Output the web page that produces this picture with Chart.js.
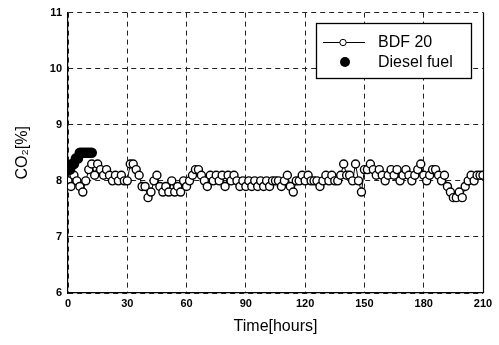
<!DOCTYPE html>
<html>
<head>
<meta charset="utf-8">
<script src="https://cdn.jsdelivr.net/npm/chart.js@4"></script>
<style>
  html, body { margin: 0; padding: 0; background: #fff; }
  #wrap { width: 499px; height: 345px; }
</style>
</head>
<body>
<div id="wrap"><canvas id="c" width="499" height="345"></canvas></div>
<script>
// ---- data ----
const bdfTime = [0,1.5,3,4.5,6,7.5,9,10.5,12,13.5,15,
16.5,18,19.5,21,22.5,24,25.5,27,28.5,30,
31.5,33,34.5,36,37.5,39,40.5,42,43.5,45,
46.5,48,49.5,51,52.5,54,55.5,57,58.5,60,
61.5,63,64.5,66,67.5,69,70.5,72,73.5,75,
76.5,78,79.5,81,82.5,84,85.5,87,88.5,90,
91.5,93,94.5,96,97.5,99,100.5,102,103.5,105,
106.5,108,109.5,111,112.5,114,115.5,117,118.5,120,
121.5,123,124.5,126,127.5,129,130.5,132,133.5,135,
136.5,138,139.5,141,142.5,144,145.5,147,148.5,150,
151.5,153,154.5,156,157.5,159,160.5,162,163.5,165,
166.5,168,169.5,171,172.5,174,175.5,177,178.5,180,
181.5,183,184.5,186,187.5,189,190.5,192,193.5,195,
196.5,198,199.5,201,202.5,204,205.5,207,208.5,210];
const bdfCO2 = [8.0,7.9,8.1,8.0,7.9,7.8,8.0,8.2,8.3,8.1,8.3,
8.2,8.1,8.2,8.1,8.0,8.1,8.0,8.1,8.0,8.0,
8.3,8.3,8.2,8.1,7.9,7.9,7.7,7.8,8.0,8.1,
7.9,7.8,7.9,7.8,8.0,7.8,7.9,7.8,8.0,7.9,
8.0,8.1,8.2,8.2,8.1,8.0,7.9,8.1,8.0,8.1,
8.0,8.1,7.9,8.1,8.0,8.1,8.0,7.9,8.0,7.9,
8.0,7.9,8.0,7.9,8.0,7.9,8.0,7.9,8.0,8.0,
8.0,7.9,8.0,8.1,7.9,7.8,8.0,8.0,8.1,8.0,
8.1,8.0,8.0,8.0,7.9,8.0,8.1,8.0,8.1,8.0,
8.0,8.1,8.3,8.1,8.1,8.0,8.3,8.0,7.8,8.2,
8.2,8.3,8.2,8.1,8.2,8.1,8.0,8.1,8.2,8.1,
8.2,8.0,8.1,8.2,8.1,8.0,8.1,8.2,8.3,8.1,
8.0,8.1,8.2,8.2,8.1,8.0,8.1,7.9,7.8,7.7,
7.7,7.8,7.7,7.9,8.0,8.1,8.0,8.1,8.1,8.1];
const dieselTime = [0,1,2,3,4,5,6,7,8,9,10,11,12];
const dieselCO2 = [8.2,8.2,8.3,8.3,8.4,8.4,8.5,8.5,8.5,8.5,8.5,8.5,8.5];
const xTicks = [0,30,60,90,120,150,180,210];
const yTicks = [6,7,8,9,10,11];
const seriesLabels = ['BDF 20', 'Diesel fuel'];

const FONT = "'Liberation Sans', Arial, Helvetica, sans-serif";

const legendBox = {
  id: 'legendBox',
  afterDraw(chart) {
    const ctx = chart.ctx;
    ctx.save();
    const x0 = 316, y0 = 23, w = 155, h = 55;
    ctx.fillStyle = '#fff';
    ctx.fillRect(x0, y0, w, h);
    ctx.strokeStyle = '#000';
    ctx.lineWidth = 1.3;
    ctx.strokeRect(x0 + 0.5, y0 + 0.5, w, h);
    ctx.lineWidth = 1;
    ctx.beginPath();
    ctx.moveTo(323, 42.5); ctx.lineTo(365, 42.5); ctx.stroke();
    ctx.beginPath();
    ctx.arc(343, 42.5, 3.2, 0, Math.PI * 2);
    ctx.fillStyle = '#fff'; ctx.fill(); ctx.stroke();
    ctx.beginPath();
    ctx.arc(345, 62, 5, 0, Math.PI * 2);
    ctx.fillStyle = '#000'; ctx.fill();
    ctx.font = '16px ' + FONT;
    ctx.textBaseline = 'middle';
    ctx.textAlign = 'left';
    ctx.fillText(chart.data.datasets[0].label, 378, 43);
    ctx.fillText(chart.data.datasets[1].label, 378, 63);
    ctx.restore();
  }
};

const frame = {
  id: 'frame',
  afterDatasetsDraw(chart) {
    const {ctx, chartArea: a} = chart;
    ctx.save();
    ctx.strokeStyle = '#000';
    ctx.lineWidth = 1.2;
    ctx.beginPath();
    ctx.moveTo(Math.round(a.right) + 0.5, a.top);
    ctx.lineTo(Math.round(a.right) + 0.5, a.bottom);
    ctx.stroke();
    ctx.restore();
  }
};

new Chart(document.getElementById('c'), {
  type: 'line',
  data: {
    datasets: [
      {
        label: seriesLabels[0],
        data: bdfTime.map((t, i) => ({x: t, y: bdfCO2[i]})),
        borderColor: '#000',
        borderWidth: 1,
        pointRadius: 4,
        pointBackgroundColor: '#fff',
        pointBorderColor: '#000',
        pointBorderWidth: 1.4,
        order: 1,
        tension: 0
      },
      {
        label: seriesLabels[1],
        data: dieselTime.map((t, i) => ({x: t, y: dieselCO2[i]})),
        showLine: false,
        pointRadius: 5.3,
        pointBackgroundColor: '#000',
        pointBorderColor: '#000',
        pointBorderWidth: 0,
        order: 0
      }
    ]
  },
  options: {
    responsive: false,
    animation: false,
    events: [],
    layout: { padding: { top: 10, right: 16, left: 0, bottom: 0 } },
    plugins: { legend: { display: false }, tooltip: { enabled: false } },
    scales: {
      x: {
        type: 'linear',
        min: 0, max: 210,
        afterBuildTicks(s) { s.ticks = xTicks.map(v => ({value: v})); },
        afterFit(s) { s.height = 52; },
        ticks: { color: '#000', padding: 4, font: { family: FONT, size: 11, weight: 'bold' } },
        grid: { color: '#222', lineWidth: 1, drawTicks: false },
        border: { display: true, color: '#000', width: 1.2, dash: [5, 4] },
        title: { display: true, text: 'Time[hours]', color: '#000', font: { family: FONT, size: 16 }, padding: { top: 4, bottom: 9 } }
      },
      y: {
        min: 6, max: 11,
        afterBuildTicks(s) { s.ticks = yTicks.map(v => ({value: v})); },
        afterFit(s) { s.width = 68; },
        ticks: { color: '#000', padding: 6, font: { family: FONT, size: 11, weight: 'bold' } },
        grid: { color: '#222', lineWidth: 1, drawTicks: false },
        border: { display: true, color: '#000', width: 1.2, dash: [5, 4] },
        title: { display: true, text: 'CO₂[%]', color: '#000', font: { family: FONT, size: 16 }, padding: { top: 13, bottom: 4 } }
      }
    }
  },
  plugins: [frame, legendBox]
});
</script>
</body>
</html>
